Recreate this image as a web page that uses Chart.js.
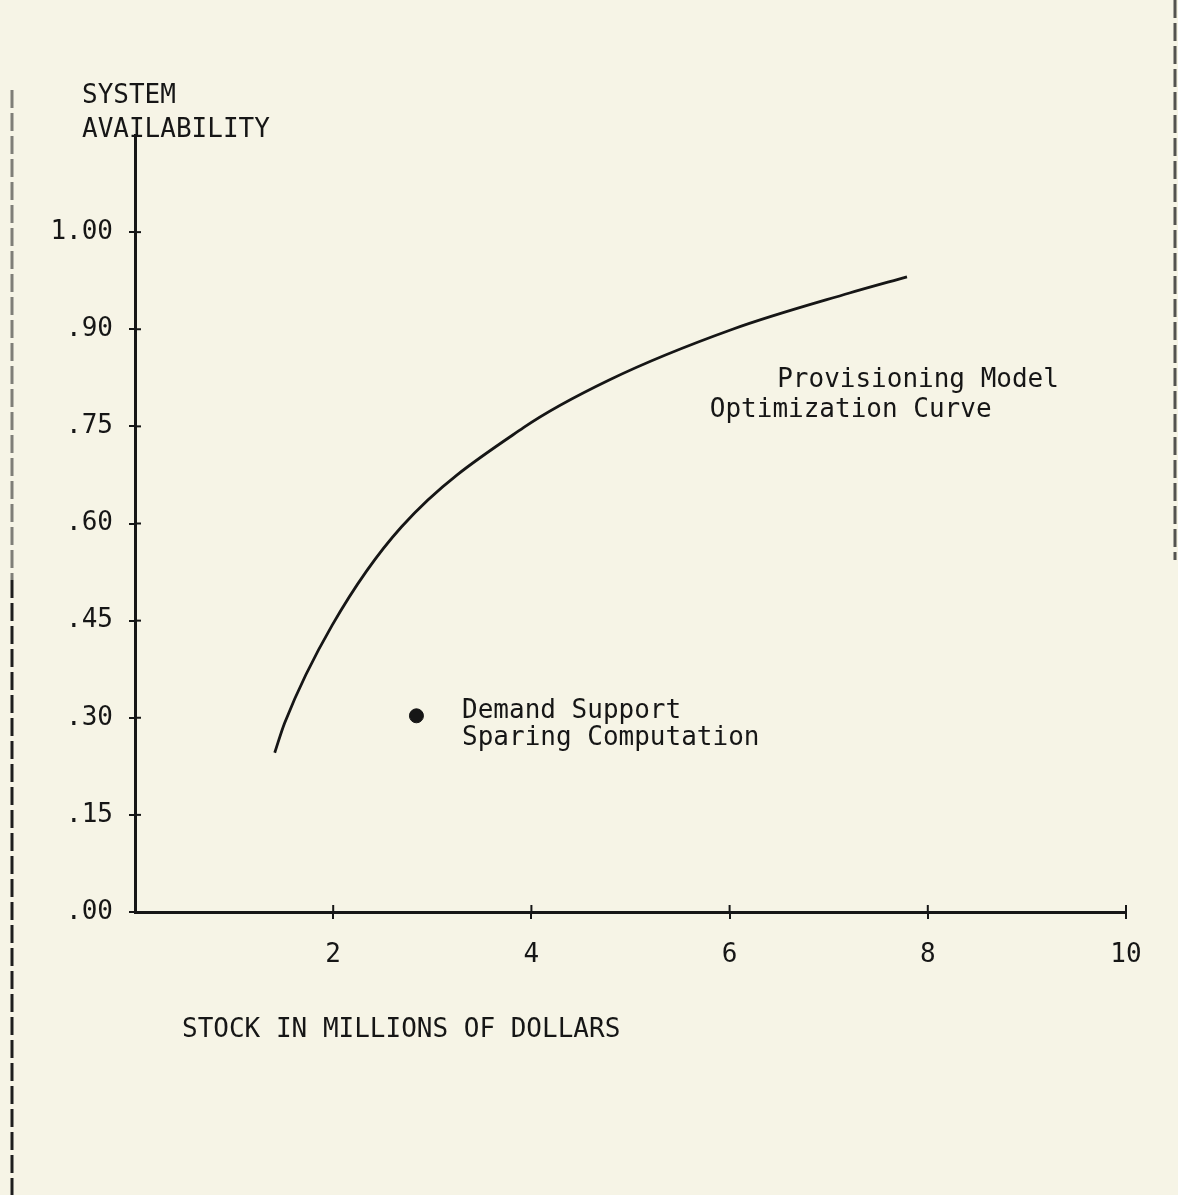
<!DOCTYPE html>
<html>
<head>
<meta charset="utf-8">
<script src="https://cdn.jsdelivr.net/npm/chart.js@4.4.1/dist/chart.umd.min.js"></script>
<style>
  html, body { margin: 0; padding: 0; background: #f6f4e6; }
  #wrap { width: 1178px; height: 1195px; position: relative; }
</style>
</head>
<body>
<div id="wrap"><canvas id="availChart"></canvas></div>
<script>
// stock (millions of dollars) vs system availability
const curveStock = [1.41, 1.51, 1.99, 2.69, 3.92, 4.79, 6.03, 7.21, 7.79];
const curveAvail = [0.246, 0.292, 0.443, 0.595, 0.748, 0.822, 0.900, 0.956, 0.981];

const demandStock = [2.84];
const demandAvail = [0.303];

const xTickValues = [2, 4, 6, 8, 10];
const yTickValues = [0, 0.15, 0.30, 0.45, 0.60, 0.75, 0.90, 1.05];
const yTickLabels = [".00", ".15", ".30", ".45", ".60", ".75", ".90", "1.00"];

const INK = "#161616";
const FONT = "26px 'DejaVu Sans Mono', 'Liberation Mono', monospace";

// nền giấy + các chữ chú thích + viền scan
const paperPlugin = {
  id: "paper",
  beforeDraw(chart) {
    const c = chart.ctx;
    c.save();
    c.fillStyle = "#f6f4e6";
    c.fillRect(0, 0, chart.width, chart.height);
    c.restore();
  },
  afterDraw(chart) {
    const c = chart.ctx;
    const xs = chart.scales.x;
    const ys = chart.scales.y;
    c.save();

    // ticks crossing the axes (inner half)
    c.strokeStyle = INK;
    c.lineWidth = 2;
    yTickValues.forEach((v) => {
      if (v === 0) return;
      const py = ys.getPixelForValue(v);
      c.beginPath();
      c.moveTo(xs.left, py);
      c.lineTo(xs.left + 6, py);
      c.stroke();
    });
    xTickValues.forEach((v) => {
      const px = xs.getPixelForValue(v);
      c.beginPath();
      c.moveTo(px, ys.bottom);
      c.lineTo(px, ys.bottom - 7);
      c.stroke();
    });

    c.fillStyle = INK;
    c.font = FONT;
    c.textBaseline = "alphabetic";
    c.textAlign = "left";

    // y axis title
    c.fillText("SYSTEM", 82, 103);
    c.fillText("AVAILABILITY", 82, 137);

    // x axis title
    c.fillText("STOCK IN MILLIONS OF DOLLARS", 182, 1037);

    // annotations
    c.fillText("Provisioning Model", xs.getPixelForValue(6.48), ys.getPixelForValue(0.811));
    c.fillText("Optimization Curve", xs.getPixelForValue(5.80), ys.getPixelForValue(0.764));
    c.fillText("Demand Support", xs.getPixelForValue(3.30), ys.getPixelForValue(0.300));
    c.fillText("Sparing Computation", xs.getPixelForValue(3.30), ys.getPixelForValue(0.258));

    // scan edges
    c.lineWidth = 3;
    c.setLineDash([18, 5]);
    c.strokeStyle = "rgba(30,30,30,0.55)";
    c.beginPath();
    c.moveTo(12, 90);
    c.lineTo(12, 580);
    c.stroke();
    c.strokeStyle = "#1e1e1e";
    c.beginPath();
    c.moveTo(12, 580);
    c.lineTo(12, 1195);
    c.stroke();
    c.strokeStyle = "rgba(30,30,30,0.75)";
    c.beginPath();
    c.moveTo(1175, 0);
    c.lineTo(1175, 560);
    c.stroke();
    c.restore();
  },
};

const ctx = document.querySelector("#availChart").getContext("2d");

new Chart(ctx, {
  type: "scatter",
  data: {
    datasets: [
      {
        label: "Provisioning Model Optimization Curve",
        data: curveStock.map((x, i) => ({ x: x, y: curveAvail[i] })),
        showLine: true,
        borderColor: INK,
        borderWidth: 2.8,
        pointRadius: 0,
        cubicInterpolationMode: "monotone",
        fill: false,
      },
      {
        label: "Demand Support Sparing Computation",
        data: demandStock.map((x, i) => ({ x: x, y: demandAvail[i] })),
        pointStyle: "circle",
        pointRadius: 7,
        backgroundColor: INK,
        borderColor: INK,
      },
    ],
  },
  options: {
    responsive: true,
    maintainAspectRatio: false,
    animation: false,
    layout: {
      padding: { left: 0, right: 52, top: 135, bottom: 0 },
    },
    plugins: {
      legend: { display: false },
      tooltip: { enabled: false },
    },
    scales: {
      x: {
        type: "linear",
        min: 0,
        max: 10,
        afterBuildTicks: (scale) => {
          scale.ticks = xTickValues.map((v) => ({ value: v }));
        },
        afterFit: (scale) => {
          scale.height = 283;
        },
        border: { display: true, color: INK, width: 3 },
        grid: { drawOnChartArea: false, drawTicks: true, tickLength: 7, color: INK, lineWidth: 2 },
        ticks: {
          color: INK,
          padding: 21,
          maxRotation: 0,
          font: { family: "'DejaVu Sans Mono', monospace", size: 26 },
        },
      },
      y: {
        type: "linear",
        min: 0,
        max: 1.2,
        afterBuildTicks: (scale) => {
          scale.ticks = yTickValues.map((v) => ({ value: v }));
        },
        afterFit: (scale) => {
          scale.width = 135;
        },
        border: { display: true, color: INK, width: 3 },
        grid: { drawOnChartArea: false, drawTicks: true, tickLength: 6, color: INK, lineWidth: 2 },
        ticks: {
          color: INK,
          padding: 16,
          font: { family: "'DejaVu Sans Mono', monospace", size: 26 },
          callback: function (value, index) {
            return yTickLabels[index];
          },
        },
      },
    },
  },
  plugins: [paperPlugin],
});
</script>
</body>
</html>
